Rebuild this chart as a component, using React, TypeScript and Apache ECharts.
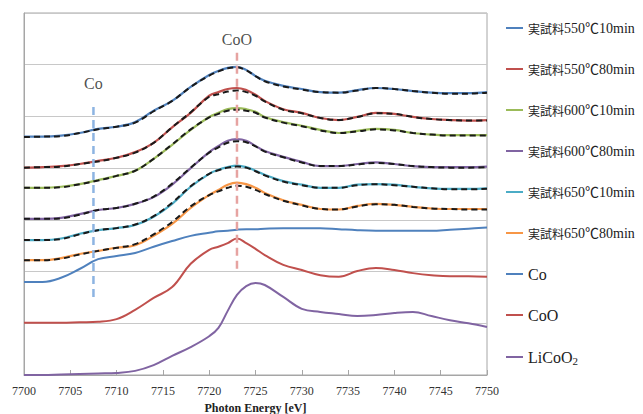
import React, { useEffect, useRef } from "react";
import * as echarts from "echarts";

const XS = [7700, 7702, 7704, 7706, 7708, 7710, 7712, 7714, 7716, 7718, 7720, 7721, 7722, 7723, 7724, 7725, 7726, 7728, 7730, 7732, 7734, 7736, 7738, 7740, 7742, 7744, 7746, 7748, 7750];

const s550_10 = [4.61, 4.61, 4.63, 4.68, 4.76, 4.80, 4.89, 5.11, 5.30, 5.57, 5.80, 5.88, 5.94, 5.96, 5.90, 5.78, 5.69, 5.59, 5.53, 5.47, 5.46, 5.51, 5.55, 5.53, 5.49, 5.46, 5.45, 5.45, 5.47];
const s550_80 = [4.01, 4.02, 4.04, 4.08, 4.14, 4.20, 4.31, 4.49, 4.79, 5.07, 5.40, 5.47, 5.53, 5.55, 5.51, 5.42, 5.30, 5.14, 5.07, 4.97, 4.93, 4.99, 5.07, 5.05, 4.99, 4.95, 4.93, 4.92, 4.93];
const s600_10 = [3.62, 3.62, 3.64, 3.69, 3.77, 3.85, 3.95, 4.18, 4.45, 4.74, 4.99, 5.07, 5.14, 5.16, 5.14, 5.09, 4.99, 4.89, 4.82, 4.74, 4.68, 4.72, 4.76, 4.74, 4.68, 4.65, 4.64, 4.64, 4.64];
const s600_80 = [3.02, 3.02, 3.04, 3.11, 3.19, 3.23, 3.31, 3.44, 3.68, 4.00, 4.31, 4.43, 4.53, 4.56, 4.53, 4.43, 4.33, 4.22, 4.12, 4.04, 4.04, 4.08, 4.11, 4.08, 4.04, 4.02, 4.02, 4.02, 4.03];
const s650_10 = [2.61, 2.61, 2.64, 2.73, 2.80, 2.84, 2.90, 3.06, 3.31, 3.64, 3.89, 3.97, 4.02, 4.05, 4.02, 3.95, 3.87, 3.75, 3.68, 3.62, 3.62, 3.68, 3.69, 3.68, 3.64, 3.61, 3.60, 3.60, 3.61];
const s650_80 = [2.22, 2.22, 2.26, 2.34, 2.40, 2.46, 2.51, 2.69, 2.92, 3.23, 3.48, 3.58, 3.68, 3.72, 3.69, 3.62, 3.52, 3.38, 3.29, 3.21, 3.20, 3.27, 3.31, 3.29, 3.25, 3.22, 3.21, 3.21, 3.21];

const fit550_10 = [4.60, 4.61, 4.62, 4.68, 4.75, 4.80, 4.88, 5.10, 5.30, 5.57, 5.79, 5.87, 5.93, 5.95, 5.89, 5.78, 5.68, 5.58, 5.52, 5.47, 5.46, 5.50, 5.55, 5.53, 5.49, 5.46, 5.44, 5.44, 5.46];
const fit550_80 = [4.01, 4.02, 4.03, 4.08, 4.13, 4.20, 4.30, 4.49, 4.79, 5.08, 5.38, 5.43, 5.48, 5.50, 5.47, 5.40, 5.29, 5.13, 5.06, 4.97, 4.93, 4.99, 5.06, 5.05, 4.99, 4.95, 4.93, 4.92, 4.92];
const fit600_10 = [3.62, 3.62, 3.63, 3.69, 3.76, 3.85, 3.95, 4.18, 4.46, 4.75, 4.98, 5.05, 5.11, 5.13, 5.11, 5.07, 4.98, 4.88, 4.81, 4.73, 4.68, 4.71, 4.75, 4.73, 4.68, 4.65, 4.63, 4.63, 4.63];
const fit600_80 = [3.02, 3.02, 3.03, 3.10, 3.19, 3.23, 3.31, 3.45, 3.70, 4.01, 4.30, 4.40, 4.49, 4.52, 4.50, 4.42, 4.32, 4.21, 4.11, 4.04, 4.04, 4.07, 4.10, 4.08, 4.04, 4.02, 4.01, 4.01, 4.02];
const fit650_10 = [2.61, 2.61, 2.63, 2.72, 2.80, 2.84, 2.91, 3.07, 3.33, 3.65, 3.89, 3.96, 4.01, 4.03, 4.01, 3.94, 3.86, 3.74, 3.67, 3.62, 3.62, 3.67, 3.69, 3.67, 3.64, 3.61, 3.59, 3.59, 3.60];
const fit650_80 = [2.22, 2.22, 2.25, 2.33, 2.40, 2.46, 2.53, 2.72, 2.96, 3.26, 3.48, 3.55, 3.62, 3.66, 3.64, 3.58, 3.50, 3.37, 3.28, 3.21, 3.20, 3.26, 3.30, 3.29, 3.25, 3.22, 3.21, 3.20, 3.20];

const refCo = [1.80, 1.80, 1.88, 2.05, 2.24, 2.30, 2.36, 2.48, 2.59, 2.69, 2.75, 2.78, 2.79, 2.81, 2.82, 2.82, 2.83, 2.84, 2.84, 2.84, 2.82, 2.80, 2.79, 2.79, 2.79, 2.79, 2.81, 2.83, 2.85];
const refCoO = [1.01, 1.01, 1.01, 1.02, 1.03, 1.08, 1.26, 1.49, 1.70, 2.15, 2.42, 2.48, 2.55, 2.64, 2.55, 2.44, 2.32, 2.13, 2.03, 1.93, 1.90, 2.01, 2.07, 2.03, 1.97, 1.93, 1.91, 1.91, 1.90];
const refLiCoO2 = [0.00, 0.00, 0.01, 0.02, 0.03, 0.04, 0.08, 0.19, 0.37, 0.54, 0.75, 0.91, 1.24, 1.55, 1.72, 1.78, 1.74, 1.51, 1.28, 1.22, 1.18, 1.14, 1.16, 1.20, 1.22, 1.14, 1.06, 1.00, 0.93];

const CO_MARK_X = 7707.5;
const CO_MARK_Y = [5.18, 1.49];
const COO_MARK_X = 7723;
const COO_MARK_Y = [6.23, 1.99];

const SAMPLE_NAMES = ["実試料550℃10min", "実試料550℃80min", "実試料600℃10min", "実試料600℃80min", "実試料650℃10min", "実試料650℃80min"];
const REF_NAMES = ["Co", "CoO", "LiCoO2"];
const SAMPLE_COLORS = ["#4f81bd", "#c0504d", "#9bbb59", "#8064a2", "#4bacc6", "#f79646"];
const REF_COLORS = ["#4f81bd", "#c0504d", "#8064a2"];

const X_TICKS = { min: 7700, max: 7750, interval: 5 };
const Y_RANGE = { min: 0, max: 7, interval: 1 };

const SERIF = "'Liberation Serif', 'Times New Roman', 'Noto Sans CJK JP', serif";

const pair = (ys: number[]) => XS.map((x, i) => [x, ys[i]]);

export default function App() {
  const ref = useRef<HTMLDivElement>(null);
  useEffect(() => {
    if (!ref.current) return;
    const chart = echarts.init(ref.current, undefined, { renderer: "svg" });
    const samples = [s550_10, s550_80, s600_10, s600_80, s650_10, s650_80];
    const fits = [fit550_10, fit550_80, fit600_10, fit600_80, fit650_10, fit650_80];
    const refs = [refCo, refCoO, refLiCoO2];
    const series: any[] = [];
    samples.forEach((ys, i) => {
      series.push({
        name: SAMPLE_NAMES[i],
        type: "line",
        data: pair(ys),
        smooth: 0.4,
        showSymbol: false,
        symbol: "none",
        lineStyle: { color: SAMPLE_COLORS[i], width: 2.2 },
        itemStyle: { color: SAMPLE_COLORS[i] },
        z: 2,
      });
    });
    fits.forEach((ys, i) => {
      series.push({
        name: "fit" + i,
        type: "line",
        data: pair(ys),
        smooth: 0.4,
        showSymbol: false,
        symbol: "none",
        lineStyle: { color: "#1a1a1a", width: 2, type: [6, 4] },
        itemStyle: { color: "#1a1a1a" },
        z: 3,
      });
    });
    refs.forEach((ys, i) => {
      series.push({
        name: REF_NAMES[i],
        type: "line",
        data: pair(ys),
        smooth: 0.4,
        showSymbol: false,
        symbol: "none",
        lineStyle: { color: REF_COLORS[i], width: 2 },
        itemStyle: { color: REF_COLORS[i] },
        z: 2,
      });
    });
    const markLine = (name: string, x: number, ys: number[], color: string) => ({
      name: name + "-mark",
      type: "line",
      data: [[x, ys[0]], [x, ys[1]]],
      symbol: "none",
      showSymbol: false,
      lineStyle: { color, width: 2.5, type: [8, 5] },
      itemStyle: { color },
      z: 4,
    });
    const markLabel = (name: string, x: number, y: number, dist: number) => ({
      name: name + "-label",
      type: "scatter",
      data: [[x, y]],
      symbol: "circle",
      symbolSize: 1,
      itemStyle: { color: "rgba(0,0,0,0)" },
      label: {
        show: true,
        formatter: name,
        position: "top",
        distance: dist,
        fontFamily: SERIF,
        fontSize: 16,
        color: "#222",
      },
      z: 5,
    });
    series.push(markLine("Co", CO_MARK_X, CO_MARK_Y, "#8db4e2"));
    series.push(markLine("CoO", COO_MARK_X, COO_MARK_Y, "#e6a3a1"));
    series.push(markLabel("Co", CO_MARK_X, CO_MARK_Y[0], 15));
    series.push(markLabel("CoO", COO_MARK_X, COO_MARK_Y[0], 5));

    chart.setOption({
      animation: false,
      grid: {
        left: 24,
        right: 156,
        top: 13,
        bottom: 39,
        show: true,
        borderColor: "#a6a6a6",
        borderWidth: 1,
        outerBoundsMode: "none",
        containLabel: false,
      },
      legend: {
        data: [...SAMPLE_NAMES, ...REF_NAMES],
        orient: "vertical",
        left: 501,
        top: 15,
        icon: "rect",
        itemWidth: 17,
        itemHeight: 2,
        itemGap: 25,
        textStyle: {
          color: "#222",
          fontFamily: SERIF,
          fontSize: 14,
          lineHeight: 16,
          rich: {
            c: { fontFamily: "'Noto Sans CJK JP', sans-serif", fontSize: 12, lineHeight: 16, color: "#222" },
            l: { fontFamily: SERIF, fontSize: 14, lineHeight: 16, color: "#222" },
            b: { fontFamily: SERIF, fontSize: 16, lineHeight: 16, color: "#222" },
            s: { fontFamily: SERIF, fontSize: 11, lineHeight: 16, color: "#222", padding: [7, 0, 0, 0] },
          },
        },
        formatter: (name: string) => {
          if (name.startsWith("実試料")) return `{c|実試料}{l|${name.slice(3)}}`;
          if (name === "LiCoO2") return "{b|LiCoO}{s|2}";
          return `{b|${name}}`;
        },
      },
      xAxis: {
        type: "value",
        min: X_TICKS.min,
        max: X_TICKS.max,
        interval: X_TICKS.interval,
        name: "Photon Energy [eV]",
        nameLocation: "middle",
        nameGap: 26,
        nameTextStyle: { fontFamily: SERIF, fontSize: 12, fontWeight: "bold", color: "#222" },
        axisLine: { show: true, lineStyle: { color: "#a6a6a6" } },
        axisTick: { show: true, inside: true, length: 5, lineStyle: { color: "#a6a6a6" } },
        axisLabel: {
          fontFamily: SERIF,
          fontSize: 12,
          color: "#333",
          margin: 10,
          formatter: (v: number) => String(v),
        },
        splitLine: { show: false },
      },
      yAxis: {
        type: "value",
        min: Y_RANGE.min,
        max: Y_RANGE.max,
        interval: Y_RANGE.interval,
        axisLine: { show: true, lineStyle: { color: "#a6a6a6" } },
        axisTick: { show: false },
        axisLabel: { show: false },
        splitLine: { show: true, lineStyle: { color: "#c8c8c8", width: 1 } },
      },
      series,
    });
    return () => chart.dispose();
  }, []);
  return (
    <div
      ref={ref}
      style={{ position: "fixed", left: 0, top: 0, width: 643, height: 414, background: "#fff" }}
    />
  );
}
